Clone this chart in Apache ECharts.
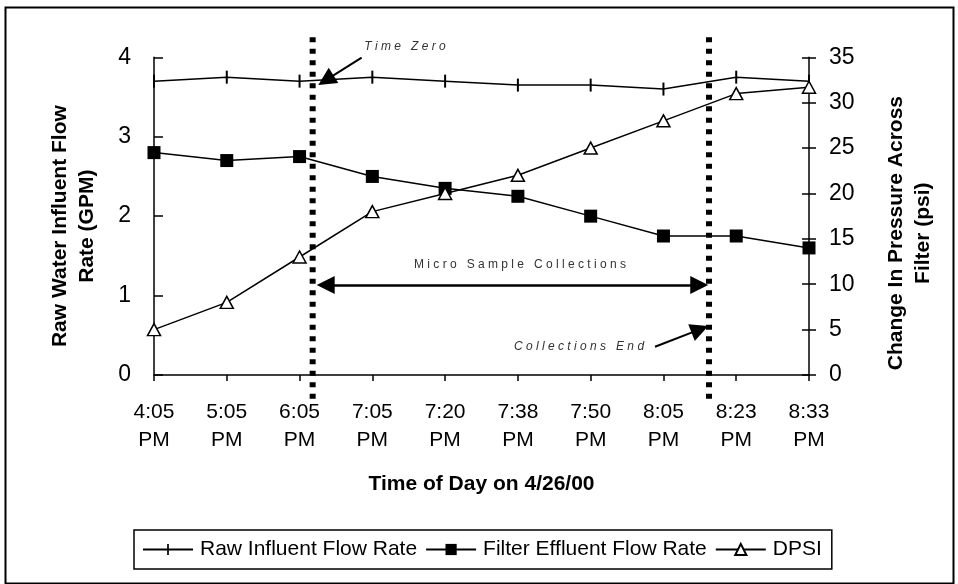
<!DOCTYPE html>
<html>
<head>
<meta charset="utf-8">
<script src="https://cdn.jsdelivr.net/npm/echarts@6/dist/echarts.min.js"></script>
<style>
html,body{margin:0;padding:0;background:#fff;}
#chart{width:958px;height:584px;}
</style>
</head>
<body>
<div id="chart"></div>
<script>
// ---- data ----
const categories = ['4:05\nPM','5:05\nPM','6:05\nPM','7:05\nPM','7:20\nPM','7:38\nPM','7:50\nPM','8:05\nPM','8:23\nPM','8:33\nPM'];
const rawInfluent = [3.7, 3.75, 3.7, 3.75, 3.7, 3.65, 3.65, 3.6, 3.75, 3.7];
const filterEffluent = [2.8, 2.7, 2.75, 2.5, 2.35, 2.25, 2.0, 1.75, 1.75, 1.6];
const dpsi = [5, 8, 13, 18, 20, 22, 25, 28, 31, 31.7];
const seriesNames = ['Raw Influent Flow Rate', 'Filter Effluent Flow Rate', 'DPSI'];

// annotation positions (x in category-index units, y in GPM units)
const guideLinesX = [2.18, 7.626];
const guideSpan = [-0.3, 4.3];
const timeZeroArrow = [[2.853, 3.995], [2.362, 3.712]];
const collectionsArrow = [[2.359, 1.133], [7.492, 1.133]];
const collectionsEndArrow = [[6.884, 0.356], [7.501, 0.575]];
const notes = [
  {text: 'T i m e   Z e r o', at: [3.449, 4.13], italic: true},
  {text: 'M i c r o   S a m p l e   C o l l e c t i o n s', at: [5.029, 1.385], italic: false},
  {text: 'C o l l e c t i o n s   E n d', at: [5.84, 0.3525], italic: true}
];

const FONT = 'Liberation Sans, Arial, sans-serif';
const chart = echarts.init(document.getElementById('chart'));

const guideSeries = guideLinesX.map(x => ({
  type: 'line', xAxisIndex: 1, yAxisIndex: 3, silent: true,
  symbol: 'none', animation: false, z: 5,
  data: [[x, guideSpan[0]], [x, guideSpan[1]]],
  lineStyle: {color: '#000', width: 6, type: [5, 6.5], cap: 'butt'}
}));

const arrowLine = (pts, startSym, endSym, w) => ([
  {coord: pts[0], symbol: startSym, lineStyle: {color: '#000', width: w, type: 'solid'}},
  {coord: pts[1], symbol: endSym}
]);

const TICK_MARK = 'path://M0,0L0,0M13,13L13,13M5.5,0H7.5V13H5.5Z';

chart.setOption({
  animation: false,
  backgroundColor: '#fff',
  textStyle: {fontFamily: FONT, color: '#000'},
  graphic: [{
    type: 'rect', left: 3, top: 5, silent: true,
    shape: {width: 948, height: 576},
    style: {fill: 'none', stroke: '#000', lineWidth: 2}
  }],
  legend: {
    data: seriesNames,
    left: 134, top: 530,
    padding: [9, 10, 9, 8],
    itemGap: 8, itemWidth: 50, itemHeight: 14,
    borderColor: '#000', borderWidth: 1.5,
    textStyle: {fontFamily: FONT, fontSize: 21, color: '#000', padding: [0, 0, 0, 2]}
  },
  grid: [
    {left: 154, right: 149, top: 57.3, bottom: 209, containLabel: false},
    {left: 154, right: 149, top: 33.5, bottom: 185.2, containLabel: false}
  ],
  xAxis: [{
    type: 'category', gridIndex: 0, data: categories, boundaryGap: false,
    axisLine: {lineStyle: {color: '#000', width: 1.5}},
    axisTick: {show: true, length: 6, lineStyle: {color: '#000', width: 1.5}},
    axisLabel: {fontFamily: FONT, fontSize: 21, color: '#000', lineHeight: 28, margin: 23, interval: 0},
    name: 'Time of Day on 4/26/00', nameLocation: 'middle', nameGap: 99,
    nameTextStyle: {fontFamily: FONT, fontSize: 21, fontWeight: 'bold', color: '#000'},
    splitLine: {show: false}
  }, {
    type: 'value', gridIndex: 1, min: 0, max: 9, show: false
  }],
  yAxis: [{
    type: 'value', gridIndex: 0, position: 'left', min: 0, max: 4, interval: 1,
    axisLine: {show: true, lineStyle: {color: '#000', width: 1.5}},
    axisTick: {show: true, inside: true, length: 9, lineStyle: {color: '#000', width: 1.5}},
    axisLabel: {fontFamily: FONT, fontSize: 23, color: '#000', margin: 23},
    splitLine: {show: false},
    name: 'Raw Water Influent Flow\nRate (GPM)', nameLocation: 'middle', nameGap: 53, nameRotate: 90,
    nameTextStyle: {fontFamily: FONT, fontSize: 21, fontWeight: 'bold', color: '#000', lineHeight: 27,
                    padding: [0, 20, 0, 0]}
  }, {
    type: 'value', gridIndex: 0, position: 'right', min: 0, max: 35, interval: 5,
    axisLine: {show: true, lineStyle: {color: '#000', width: 1.5}},
    axisTick: {show: true, inside: false, length: 7, lineStyle: {color: '#000', width: 1.5}},
    axisLabel: {fontFamily: FONT, fontSize: 23, color: '#000', margin: 20},
    splitLine: {show: false},
    name: 'Change In Pressure Across\nFilter (psi)', nameLocation: 'middle', nameGap: 74, nameRotate: 90,
    nameTextStyle: {fontFamily: FONT, fontSize: 21, fontWeight: 'bold', color: '#000', lineHeight: 27,
                    padding: [0, 34, 0, 0]}
  }, {
    type: 'value', gridIndex: 0, position: 'right', min: 0, max: 35, interval: 5,
    axisLine: {show: false},
    axisTick: {show: true, inside: true, length: 7, lineStyle: {color: '#000', width: 1.5}},
    axisLabel: {show: false}, splitLine: {show: false}
  }, {
    type: 'value', gridIndex: 1, min: guideSpan[0], max: guideSpan[1], show: false
  }],
  series: [{
    name: seriesNames[0], type: 'line', xAxisIndex: 0, yAxisIndex: 0, data: rawInfluent,
    symbol: TICK_MARK, symbolSize: 13, z: 3,
    lineStyle: {color: '#000', width: 1.5},
    itemStyle: {color: '#000'}
  }, {
    name: seriesNames[1], type: 'line', xAxisIndex: 0, yAxisIndex: 0, data: filterEffluent,
    symbol: 'rect', symbolSize: 13, z: 3,
    lineStyle: {color: '#000', width: 1.5},
    itemStyle: {color: '#000'}
  }, {
    name: seriesNames[2], type: 'line', xAxisIndex: 0, yAxisIndex: 1, data: dpsi,
    symbol: 'triangle', symbolSize: [13, 12], z: 3,
    lineStyle: {color: '#000', width: 1.5},
    itemStyle: {color: '#fff', borderColor: '#000', borderWidth: 1.5}
  },
  ...guideSeries,
  {
    type: 'line', xAxisIndex: 1, yAxisIndex: 3, data: [], silent: true, z: 6,
    markLine: {
      silent: true, animation: false, symbolSize: 18,
      label: {show: false},
      data: [
        arrowLine(timeZeroArrow, 'none', 'triangle', 2),
        arrowLine(collectionsArrow, 'triangle', 'triangle', 2.5),
        arrowLine(collectionsEndArrow, 'none', 'triangle', 2)
      ]
    },
    markPoint: {
      silent: true, animation: false, symbol: 'circle', symbolSize: 0,
      label: {show: true, position: 'inside'},
      data: notes.map(n => ({
        coord: n.at, value: n.text,
        label: {formatter: n.text, fontFamily: FONT, fontSize: 12, color: '#333',
                fontStyle: n.italic ? 'italic' : 'normal'}
      }))
    }
  }]
});
</script>
</body>
</html>
